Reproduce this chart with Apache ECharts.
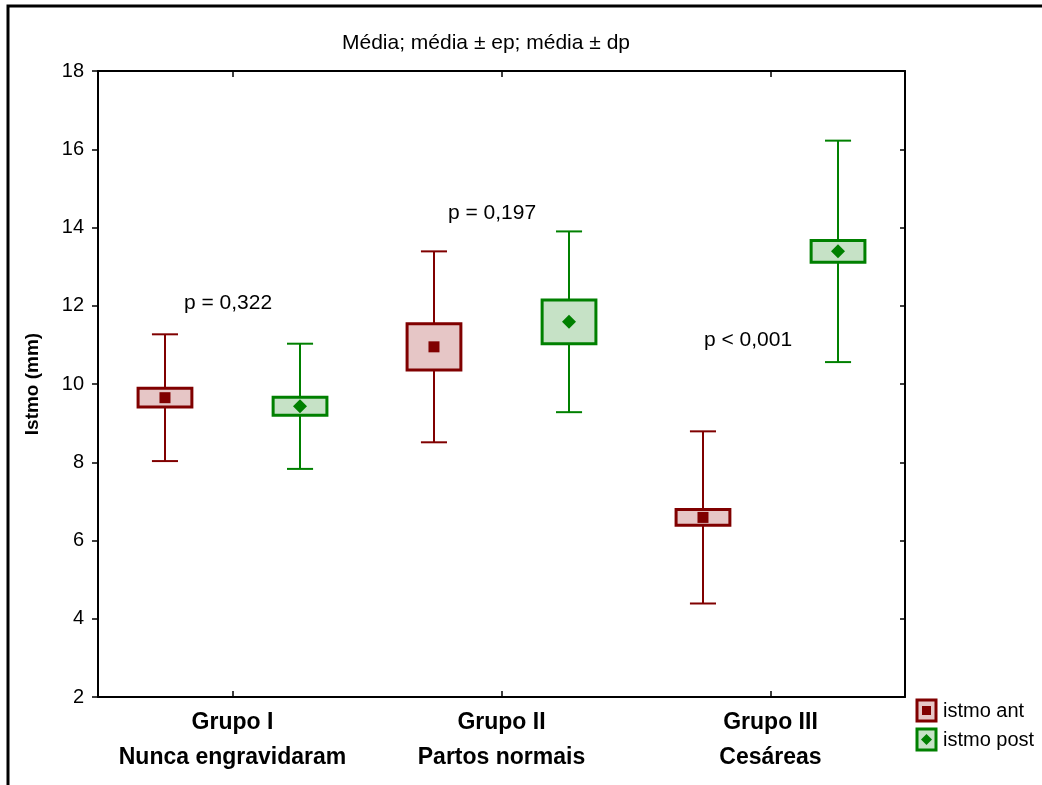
<!DOCTYPE html>
<html><head><meta charset="utf-8">
<script src="https://cdn.jsdelivr.net/npm/echarts@6/dist/echarts.min.js"></script>
<style>html,body{margin:0;padding:0;background:#fff}#c{width:1042px;height:785px}</style>
</head><body><div id="c"></div>
<script>
const groups = ['Grupo I', 'Grupo II', 'Grupo III'];
const subtitles = ['Nunca engravidaram', 'Partos normais', 'Cesáreas'];
const antMean = [9.65, 10.95, 6.59];
const antSE = [0.24, 0.59, 0.20];
const antSD = [1.62, 2.44, 2.20];
const postMean = [9.43, 11.59, 13.39];
const postSE = [0.23, 0.56, 0.28];
const postSD = [1.60, 2.31, 2.83];
const seriesNames = ['istmo ant', 'istmo post'];
const pLabels = ['p = 0,322', 'p = 0,197', 'p < 0,001'];
const titleText = 'Média; média ± ep; média ± dp';

const FONT = '"Liberation Sans", Arial, sans-serif';
const RED = '#800000', RED_FILL = '#e6c6c6';
const GREEN = '#008000', GREEN_FILL = '#c6e2c6';

function makeSeries(name, mean, se, sd, color, fill, side, marker) {
  return {
    type: 'custom', name: name,
    data: mean.map((m, i) => [i, m, se[i], sd[i]]),
    encode: { x: 0, y: 1 },
    renderItem: function (params, api) {
      const i = api.value(0), m = api.value(1), s = api.value(2), d = api.value(3);
      const band = api.size([1, 0])[0];
      const cx = api.coord([i, m])[0] + side * band * 0.251;
      const Y = v => api.coord([i, v])[1];
      const boxW = band * 0.2, capW = band * 0.097;
      const yTop = Y(m + d), yBot = Y(m - d), bTop = Y(m + s), bBot = Y(m - s), ym = Y(m);
      const ls = { stroke: color, lineWidth: 2 };
      const ch = [
        { type: 'line', shape: { x1: cx, y1: yTop, x2: cx, y2: bTop }, style: ls },
        { type: 'line', shape: { x1: cx, y1: bBot, x2: cx, y2: yBot }, style: ls },
        { type: 'line', shape: { x1: cx - capW / 2, y1: yTop, x2: cx + capW / 2, y2: yTop }, style: ls },
        { type: 'line', shape: { x1: cx - capW / 2, y1: yBot, x2: cx + capW / 2, y2: yBot }, style: ls },
        { type: 'rect', shape: { x: cx - boxW / 2, y: bTop, width: boxW, height: bBot - bTop }, style: { fill: fill, stroke: color, lineWidth: 3 } }
      ];
      if (marker === 'square') {
        ch.push({ type: 'rect', shape: { x: cx - 5.5, y: ym - 5.5, width: 11, height: 11 }, style: { fill: color } });
      } else {
        ch.push({ type: 'polygon', shape: { points: [[cx, ym - 7], [cx + 7, ym], [cx, ym + 7], [cx - 7, ym]] }, style: { fill: color } });
      }
      return { type: 'group', children: ch };
    }
  };
}

const chart = echarts.init(document.getElementById('c'), null, { renderer: 'canvas' });
const axisLine = { show: true, lineStyle: { color: '#000', width: 2 } };
chart.setOption({
  animation: false,
  backgroundColor: '#fff',
  textStyle: { fontFamily: FONT },
  grid: { left: 98, top: 71, right: 137, bottom: 88, containLabel: false },
  xAxis: [
    {
      type: 'category', data: groups, position: 'bottom',
      axisLine: axisLine,
      axisTick: { show: true, inside: true, alignWithLabel: true, interval: 0, length: 6, lineStyle: { color: '#000', width: 1.5 } },
      axisLabel: {
        interval: 0, hideOverlap: false,
        color: '#000', fontFamily: FONT, fontSize: 23, fontWeight: 'bold', lineHeight: 35, margin: 8,
        formatter: (v, i) => v + '\n' + subtitles[i]
      },
      splitLine: { show: false }
    },
    {
      type: 'category', data: groups, position: 'top',
      axisLine: axisLine,
      axisTick: { show: true, inside: true, alignWithLabel: true, interval: 0, length: 6, lineStyle: { color: '#000', width: 1.5 } },
      axisLabel: { show: false, interval: 0 }, splitLine: { show: false }
    }
  ],
  yAxis: [
    {
      type: 'value', min: 2, max: 18, interval: 2, position: 'left',
      axisLine: axisLine,
      axisTick: { show: true, inside: false, length: 6, lineStyle: { color: '#000', width: 1.5 } },
      axisLabel: { color: '#000', fontFamily: FONT, fontSize: 20, margin: 14 },
      splitLine: { show: false },
      name: 'Istmo (mm)', nameLocation: 'middle', nameGap: 56, nameRotate: 90,
      nameTextStyle: { color: '#000', fontFamily: FONT, fontSize: 19, fontWeight: 'bold' }
    },
    {
      type: 'value', min: 2, max: 18, interval: 2, position: 'right',
      axisLine: axisLine,
      axisTick: { show: true, inside: true, length: 5, lineStyle: { color: '#000', width: 1.5 } },
      axisLabel: { show: false }, splitLine: { show: false }
    }
  ],
  series: [
    makeSeries(seriesNames[0], antMean, antSE, antSD, RED, RED_FILL, -1, 'square'),
    makeSeries(seriesNames[1], postMean, postSE, postSD, GREEN, GREEN_FILL, 1, 'diamond')
  ],
  graphic: [
    { type: 'polyline', shape: { points: [[8, 785], [8, 6], [1042, 6]] }, style: { stroke: '#000', lineWidth: 3, fill: null } },
    { type: 'text', x: 486, y: 43, style: { text: titleText, font: '21px ' + FONT, fill: '#000', textAlign: 'center', textVerticalAlign: 'middle' } },
    { type: 'text', x: 228, y: 303, style: { text: pLabels[0], font: '21px ' + FONT, fill: '#000', textAlign: 'center', textVerticalAlign: 'middle' } },
    { type: 'text', x: 492, y: 213, style: { text: pLabels[1], font: '21px ' + FONT, fill: '#000', textAlign: 'center', textVerticalAlign: 'middle' } },
    { type: 'text', x: 748, y: 340, style: { text: pLabels[2], font: '21px ' + FONT, fill: '#000', textAlign: 'center', textVerticalAlign: 'middle' } },
    { type: 'rect', shape: { x: 917, y: 700, width: 19, height: 21 }, style: { fill: RED_FILL, stroke: RED, lineWidth: 3 } },
    { type: 'rect', shape: { x: 922, y: 706, width: 9, height: 9 }, style: { fill: RED } },
    { type: 'text', x: 943, y: 711, style: { text: seriesNames[0], font: '20px ' + FONT, fill: '#000', textAlign: 'left', textVerticalAlign: 'middle' } },
    { type: 'rect', shape: { x: 917, y: 729, width: 19, height: 21 }, style: { fill: GREEN_FILL, stroke: GREEN, lineWidth: 3 } },
    { type: 'polygon', shape: { points: [[926.5, 734], [932, 739.5], [926.5, 745], [921, 739.5]] }, style: { fill: GREEN } },
    { type: 'text', x: 943, y: 740, style: { text: seriesNames[1], font: '20px ' + FONT, fill: '#000', textAlign: 'left', textVerticalAlign: 'middle' } }
  ]
});
</script>
</body></html>
